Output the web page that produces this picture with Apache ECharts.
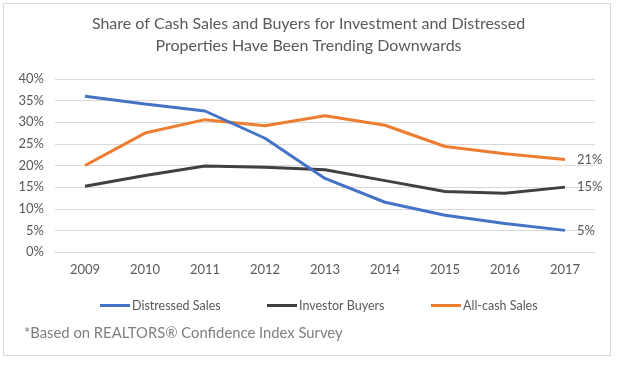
<!DOCTYPE html>
<html>
<head>
<meta charset="utf-8">
<script src="https://cdn.jsdelivr.net/npm/echarts@6/dist/echarts.min.js"></script>
<style>
html,body{margin:0;padding:0;background:#fff;}
#frame{position:absolute;left:3px;top:3px;width:608px;height:353px;border:1px solid #d9d9d9;box-sizing:border-box;}
#chart{position:absolute;left:0;top:0;width:617px;height:365px;}
</style>
</head>
<body>
<div id="frame"></div>
<div id="chart"></div>
<script>
var years = ['2009','2010','2011','2012','2013','2014','2015','2016','2017'];
var distressedSales = [36.0, 34.2, 32.6, 26.3, 17.0, 11.5, 8.5, 6.6, 5.0];
var investorBuyers = [15.2, 17.7, 19.9, 19.6, 19.0, 16.5, 14.0, 13.6, 15.0];
var allCashSales = [20.0, 27.5, 30.6, 29.2, 31.5, 29.3, 24.4, 22.7, 21.4];
var seriesNames = ['Distressed Sales', 'Investor Buyers', 'All-cash Sales'];
var endLabels = ['5%', '15%', '21%'];
var titleLines = ['Share of Cash Sales and Buyers for Investment and Distressed', 'Properties Have Been Trending Downwards'];
var footnote = '*Based on REALTORS\u00ae Confidence Index Survey';

var FONT = 'Lato';
var colors = ['#4472C4', '#404040', '#ED7D31'];
var values = [distressedSales, investorBuyers, allCashSales];

var chart = echarts.init(document.getElementById('chart'), null, { renderer: 'canvas' });
var legendLefts = [95, 262, 426];
var titles = titleLines.map(function (t, i) {
  return {
    text: t, left: 'center', top: 16 + i * 22, padding: 0,
    textStyle: { fontSize: 16, fontWeight: 'normal', color: '#595959', fontFamily: FONT }
  };
});
titles.push({
  text: footnote, left: 24, top: 326, padding: 0,
  textStyle: { fontSize: 14.8, fontWeight: 'normal', color: '#7f7f7f', fontFamily: FONT }
});
chart.setOption({
  animation: false,
  textStyle: { fontFamily: FONT },
  title: titles,
  grid: { left: 55, right: 22, top: 79, bottom: 113, containLabel: false },
  legend: seriesNames.map(function (n, i) {
    return {
      data: [n], left: legendLefts[i], top: 294, icon: 'rect', itemWidth: 30, itemHeight: 3, itemGap: 2,
      textStyle: { color: '#595959', fontSize: 12.5, fontFamily: FONT, padding: [0, 0, 0, -3] }
    };
  }),
  xAxis: {
    type: 'category', data: years, boundaryGap: true,
    axisLine: { show: true, lineStyle: { color: '#d9d9d9' } },
    axisTick: { show: false },
    axisLabel: { color: '#595959', fontSize: 13, margin: 11, fontFamily: FONT }
  },
  yAxis: {
    type: 'value', min: 0, max: 40, interval: 5,
    axisLine: { show: false }, axisTick: { show: false },
    splitLine: { lineStyle: { color: '#d9d9d9', width: 1 } },
    axisLabel: { formatter: '{value}%', color: '#595959', fontSize: 13, margin: 11, fontFamily: FONT }
  },
  series: seriesNames.map(function (n, i) {
    return {
      name: n, type: 'line', data: values[i],
      symbol: 'none', showSymbol: false,
      lineStyle: { color: colors[i], width: 3 },
      itemStyle: { color: colors[i] },
      endLabel: { show: true, formatter: endLabels[i], distance: 12, color: '#595959', fontSize: 13, fontFamily: FONT },
      z: i === 1 ? 2 : (i === 0 ? 4 : 3)
    };
  })
});
</script>
</body>
</html>
